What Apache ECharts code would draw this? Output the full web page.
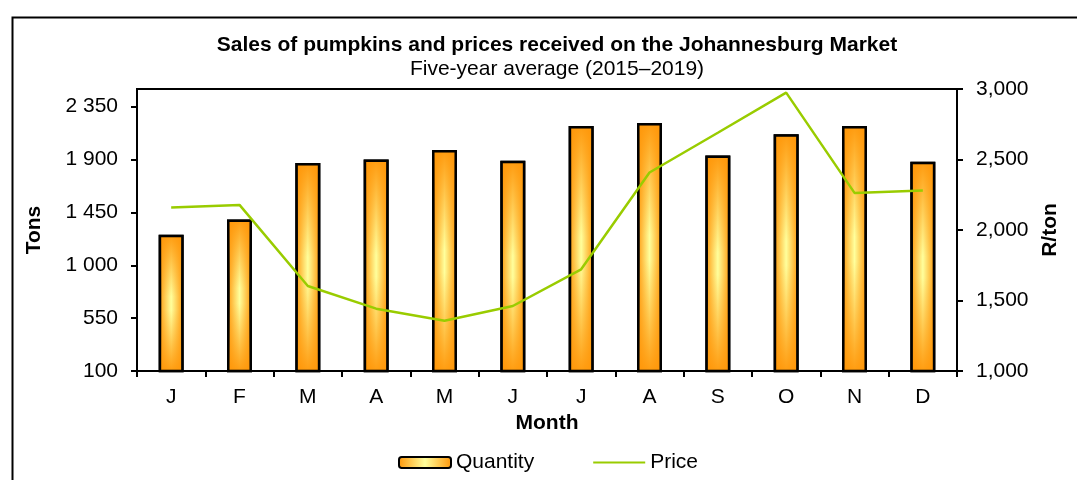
<!DOCTYPE html>
<html>
<head>
<meta charset="utf-8">
<script src="https://cdn.jsdelivr.net/npm/echarts@6/dist/echarts.min.js"></script>
<style>
  html, body { margin: 0; padding: 0; background: #fff; }
  #chart { width: 1077px; height: 480px; }
</style>
</head>
<body>
<div id="chart"></div>
<script>
const months = ['J', 'F', 'M', 'A', 'M', 'J', 'J', 'A', 'S', 'O', 'N', 'D']
const quantity = [1260, 1390, 1870, 1900, 1980, 1890, 2185, 2210, 1935, 2115, 2185, 1880]
const price = [2160, 2178, 1603, 1442, 1357, 1461, 1721, 2408, 2690, 2974, 2263, 2280]
const tonsTicks = [100, 550, 1000, 1450, 1900, 2350]
const priceTicks = [1000, 1500, 2000, 2500, 3000]

const font = 'Liberation Sans, Arial, sans-serif'
const orange = '#ff9608'
const pale = '#ffff9c'

// horizontal fade: orange edges, pale centre
const barFill = new echarts.graphic.LinearGradient(0, 0, 1, 0, [
  { offset: 0, color: orange },
  { offset: 0.5, color: pale },
  { offset: 1, color: orange },
])
// vertical fade laid on top so the ends go orange too
const barShade = new echarts.graphic.LinearGradient(0, 0, 0, 1, [
  { offset: 0, color: 'rgba(255,150,8,0.95)' },
  { offset: 0.45, color: 'rgba(255,150,8,0)' },
  { offset: 0.55, color: 'rgba(255,150,8,0)' },
  { offset: 1, color: 'rgba(255,150,8,0.95)' },
])

function spaced(v) {
  return String(v).replace(/\B(?=(\d{3})+(?!\d))/g, ' ')
}
function commas(v) {
  return String(v).replace(/\B(?=(\d{3})+(?!\d))/g, ',')
}

const chart = echarts.init(document.getElementById('chart'), null, { renderer: 'canvas' })

chart.setOption({
  animation: false,
  textStyle: { fontFamily: font },
  title: {
    text: 'Sales of pumpkins and prices received on the Johannesburg Market',
    subtext: 'Five-year average (2015–2019)',
    left: 552,
    textAlign: 'center',
    top: 30,
    itemGap: 3,
    textStyle: { fontSize: 21, fontWeight: 'bold', color: '#000', fontFamily: font },
    subtextStyle: { fontSize: 21, color: '#000', fontFamily: font },
  },
  graphic: [
    {
      type: 'rect',
      left: 10,
      top: 15,
      shape: { width: 1200, height: 600 },
      style: { fill: 'none', stroke: '#000', lineWidth: 2 },
      z: -1,
    },
  ],
  grid: {
    left: 137,
    right: 120,
    top: 89,
    bottom: 109,
    show: true,
    borderColor: '#000',
    borderWidth: 2,
  },
  legend: {
    data: ['Quantity', { name: 'Price', itemStyle: { color: 'rgba(0,0,0,0)', borderWidth: 0, opacity: 0 } }],
    left: 393,
    top: 447,
    itemWidth: 52,
    itemHeight: 11,
    itemGap: 58,
    textStyle: { fontSize: 21, color: '#000', fontFamily: font },
  },
  xAxis: {
    type: 'category',
    data: months,
    name: 'Month',
    nameLocation: 'middle',
    nameGap: 42,
    nameTextStyle: { fontSize: 21, fontWeight: 'bold', color: '#000' },
    axisLine: { lineStyle: { color: '#000', width: 2 } },
    axisTick: { show: true, length: 6, lineStyle: { color: '#000', width: 2 } },
    axisLabel: { fontSize: 21, color: '#000', margin: 16 },
  },
  yAxis: [
    {
      type: 'value',
      min: 100,
      max: 2500,
      name: 'Tons',
      nameLocation: 'middle',
      nameRotate: 90,
      nameGap: 92,
      nameTextStyle: { fontSize: 21, fontWeight: 'bold', color: '#000' },
      splitLine: { show: false },
      axisLine: { show: true, lineStyle: { color: '#000', width: 2 } },
      axisTick: { show: true, length: 6, customValues: tonsTicks, lineStyle: { color: '#000', width: 2 } },
      axisLabel: { fontSize: 21, color: '#000', margin: 19, customValues: tonsTicks, formatter: spaced },
    },
    {
      type: 'value',
      min: 1000,
      max: 3000,
      interval: 500,
      name: 'R/ton',
      nameLocation: 'middle',
      nameRotate: 90,
      nameGap: 81,
      nameTextStyle: { fontSize: 21, fontWeight: 'bold', color: '#000' },
      splitLine: { show: false },
      axisLine: { show: true, lineStyle: { color: '#000', width: 2 } },
      axisTick: { show: true, length: 6, customValues: priceTicks, lineStyle: { color: '#000', width: 2 } },
      axisLabel: { fontSize: 21, color: '#000', margin: 19, customValues: priceTicks, formatter: commas },
    },
  ],
  series: [
    {
      name: 'Quantity',
      type: 'bar',
      data: quantity,
      barWidth: 25,
      itemStyle: { color: barFill, borderColor: '#000', borderWidth: 2.5 },
    },
    {
      name: 'Quantity shade',
      type: 'bar',
      data: quantity,
      barWidth: 25,
      barGap: '-100%',
      silent: true,
      itemStyle: { color: barShade, borderColor: '#000', borderWidth: 2.5 },
    },
    {
      name: 'Price',
      type: 'line',
      yAxisIndex: 1,
      data: price,
      symbol: 'none',
      lineStyle: { color: '#99cc00', width: 2.5 },
      itemStyle: { color: '#99cc00' },
      z: 5,
    },
  ],
})
</script>
</body>
</html>
